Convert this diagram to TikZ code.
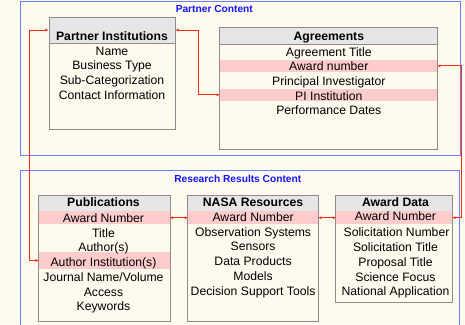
\documentclass[tikz,border=0pt]{standalone}
\usepackage{fontspec}
\setmainfont{Liberation Sans}
\usetikzlibrary{arrows.meta}
\definecolor{bg}{RGB}{254,250,238}
\definecolor{headgray}{RGB}{230,230,230}
\definecolor{bandpink}{RGB}{255,204,204}
\definecolor{boxgray}{RGB}{140,140,140}
\definecolor{frameblue}{RGB}{100,130,255}
\definecolor{labelblue}{RGB}{20,20,255}
\definecolor{linkred}{RGB}{255,40,20}
\begin{document}
\begin{tikzpicture}[x=1pt,y=-1pt,
  frame/.style={draw=frameblue, line width=0.9pt, inner sep=0pt},
  grouplabel/.style={text=labelblue, font=\fontsize{10.2}{12}\selectfont\bfseries, anchor=base, inner sep=0pt},
  tbox/.style={draw=boxgray, fill=bg, line width=0.9pt, inner sep=0pt},
  thead/.style={draw=boxgray, fill=headgray, line width=0.9pt, inner sep=0pt},
  band/.style={fill=bandpink, inner sep=0pt},
  ttitle/.style={font=\fontsize{12.2}{14}\selectfont\bfseries, anchor=base, inner sep=0pt},
  trow/.style={font=\fontsize{12.2}{14}\selectfont, anchor=base, inner sep=0pt},
  link/.style={draw=linkred, line width=0.9pt, <->, >={Latex[length=3.2pt,width=3pt]}}
]
\useasboundingbox (0,0) rectangle (465,324);
\fill[bg] (0,0) rectangle (465,324);
\clip (0,0) rectangle (465,324);

% group frames
\node[frame, minimum width=439.3pt, minimum height=153.7pt] (pcFrame) at (240.35,78.15) {};
\node[grouplabel] (pcLabel) at (214.3,12.7) {Partner Content};
\node[frame, minimum width=438.8pt, minimum height=170pt] (rrFrame) at (240.1,255.7) {};
\node[grouplabel] (rrLabel) at (237.8,182.7) {Research Results Content};

% Partner Institutions
\node[tbox, minimum width=126pt, minimum height=112pt] (pi) at (112,73) {};
\node[thead, minimum width=126pt, minimum height=26pt] (piHead) at (112,30) {};
\node[ttitle] (piTitle) at (112,40) {Partner Institutions};
\node[trow] (piR1) at (112,55) {Name};
\node[trow] (piR2) at (112,69.7) {Business Type};
\node[trow] (piR3) at (112,84.4) {Sub-Categorization};
\node[trow] (piR4) at (112,99.1) {Contact Information};

% Agreements
\node[tbox, minimum width=218.4pt, minimum height=121.3pt] (ag) at (328.5,88.35) {};
\node[thead, minimum width=218.4pt, minimum height=16.6pt] (agHead) at (328.5,36) {};
\node[band, minimum width=217pt, minimum height=11.7pt] (agAward) at (328.5,65.85) {};
\node[band, minimum width=217pt, minimum height=11.7pt] (agPI) at (328.5,94.85) {};
\node[ttitle] (agTitle) at (328.8,40.7) {Agreements};
\node[trow] (agR1) at (328.8,56) {Agreement Title};
\node[trow] (agR2) at (328.8,70.7) {Award number};
\node[trow] (agR3) at (328.8,85.4) {Principal Investigator};
\node[trow] (agR4) at (328.8,100.1) {PI Institution};
\node[trow] (agR5) at (328.8,114.8) {Performance Dates};

% Publications
\node[tbox, minimum width=132pt, minimum height=125.5pt] (pub) at (104.3,258.25) {};
\node[thead, minimum width=132pt, minimum height=15.5pt] (pubHead) at (104.3,203.25) {};
\node[band, minimum width=130.6pt, minimum height=13.4pt] (pubAward) at (104.3,217.7) {};
\node[band, minimum width=130.6pt, minimum height=17pt] (pubAuth) at (104.3,260.5) {};
\node[ttitle] (pubTitle) at (103.5,206.5) {Publications};
\node[trow] (pubR1) at (103.5,222.3) {Award Number};
\node[trow] (pubR2) at (103.5,237) {Title};
\node[trow] (pubR3) at (103.5,251.7) {Author(s)};
\node[trow] (pubR4) at (103.5,266.6) {Author Institution(s)};
\node[trow] (pubR5) at (103.5,281.3) {Journal Name/Volume};
\node[trow] (pubR6) at (103.5,296) {Access};
\node[trow] (pubR7) at (103.5,310.7) {Keywords};

% NASA Resources
\node[tbox, minimum width=131.2pt, minimum height=125.5pt] (nasa) at (253.1,258.25) {};
\node[thead, minimum width=131.2pt, minimum height=15.5pt] (nasaHead) at (253.1,203.25) {};
\node[band, minimum width=129.8pt, minimum height=13.4pt] (nasaAward) at (253.1,217.7) {};
\node[ttitle] (nasaTitle) at (253.1,206.5) {NASA Resources};
\node[trow] (nasaR1) at (253.1,221.2) {Award Number};
\node[trow] (nasaR2) at (253.1,236) {Observation Systems};
\node[trow] (nasaR3) at (253.1,250.9) {Sensors};
\node[trow] (nasaR4) at (253.1,265.8) {Data Products};
\node[trow] (nasaR5) at (253.1,280.4) {Models};
\node[trow] (nasaR6) at (253.1,295.3) {Decision Support Tools};

% Award Data
\node[tbox, minimum width=117.2pt, minimum height=106.8pt] (ad) at (394.1,248.9) {};
\node[thead, minimum width=117.2pt, minimum height=15.5pt] (adHead) at (394.1,203.25) {};
\node[band, minimum width=115.8pt, minimum height=13.4pt] (adAward) at (394.1,217.7) {};
\node[ttitle] (adTitle) at (395.5,206.3) {Award Data};
\node[trow] (adR1) at (395.5,220.8) {Award Number};
\node[trow] (adR2) at (396.5,236) {Solicitation Number};
\node[trow] (adR3) at (395.5,251) {Solicitation Title};
\node[trow] (adR4) at (395.5,266) {Proposal Title};
\node[trow] (adR5) at (395.5,281) {Science Focus};
\node[trow] (adR6) at (395.5,295.7) {National Application};

% connectors
\draw[link] (agPI.west) -- ++(-21.6,0) |- (piHead.east);
\draw[link] (piHead.west) -- ++(-19,0) |- (pubAuth.west);
\draw[link] (agAward.east) -- ++(24,0) |- (adAward.east);
\draw[link] (pubAward.east) -- (nasaAward.west);
\draw[link] (nasaAward.east) -- (adAward.west);
\end{tikzpicture}
\end{document}
